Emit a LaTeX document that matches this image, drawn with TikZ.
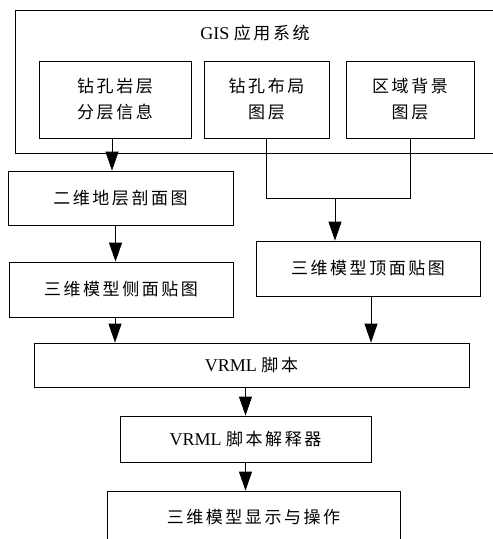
\documentclass[tikz,border=0pt]{standalone}
\usepackage{fontspec}
\setmainfont{Liberation Serif}
\newfontfamily\cjk[LetterSpace=15]{Noto Sans CJK SC}
\newcommand{\zh}[1]{{\cjk\fontsize{17}{26}\selectfont #1}}
\usepackage{tikz}
\usetikzlibrary{arrows.meta}

\begin{document}
\begin{tikzpicture}[x=1pt, y=-1pt, line width=0.8pt,
	every node/.style={font=\fontsize{18}{26}\selectfont},
	box/.style={draw, align=center, inner sep=0pt},
	cn/.style={box, font=\cjk\fontsize{17}{26}\selectfont},
	arr/.style={-{Triangle[length=19pt, width=13pt]}}]
	\clip (0,0) rectangle (493,539);
	\node[box, minimum width=490pt, minimum height=143pt] (gis) at (260,81.5) {};
	\node (gistitle) at (255,33) {GIS \zh{应用系统}};
	\node[cn, minimum width=152pt, minimum height=77pt] (zuankong) at (115,99.5) {钻孔岩层\\分层信息};
	\node[cn, minimum width=125pt, minimum height=77pt] (buju) at (266.5,99.5) {钻孔布局\\图层};
	\node[cn, minimum width=128pt, minimum height=77pt] (beijing) at (410,99.5) {区域背景\\图层};
	\node[cn, minimum width=225pt, minimum height=54pt] (erwei) at (120.5,198) {二维地层剖面图};
	\node[cn, minimum width=224pt, minimum height=55pt] (cemian) at (121,289.5) {三维模型侧面贴图};
	\node[cn, minimum width=224pt, minimum height=55pt] (dingmian) at (368,268.5) {三维模型顶面贴图};
	\node[box, minimum width=435pt, minimum height=44pt] (vrml) at (251.5,365) {VRML \zh{脚本}};
	\node[box, minimum width=251pt, minimum height=46pt] (jieshi) at (245.5,439) {VRML \zh{脚本解释器}};
	\node[cn, minimum width=293pt, minimum height=52pt] (xianshi) at (253.5,517) {三维模型显示与操作};
	\coordinate (merge) at (335,198);
	\draw[arr] ([xshift=-3pt]zuankong.south) -- ([xshift=-3pt]zuankong.south |- erwei.north);
	\draw (buju.south) -- (buju.south |- merge) -- (beijing.south |- merge) -- (beijing.south);
	\draw[arr] (merge) -- (merge |- dingmian.north);
	\draw[arr] ([xshift=-5pt]erwei.south) -- ([xshift=-5pt]erwei.south |- cemian.north);
	\draw[arr] ([xshift=-6pt]cemian.south) -- ([xshift=-6pt]cemian.south |- vrml.north);
	\draw[arr] ([xshift=3pt]dingmian.south) -- ([xshift=3pt]dingmian.south |- vrml.north);
	\draw[arr] ([xshift=-6pt]vrml.south) -- ([xshift=-6pt]vrml.south |- jieshi.north);
	\draw[arr] (jieshi.south) -- (jieshi.south |- xianshi.north);
\end{tikzpicture}
\end{document}
